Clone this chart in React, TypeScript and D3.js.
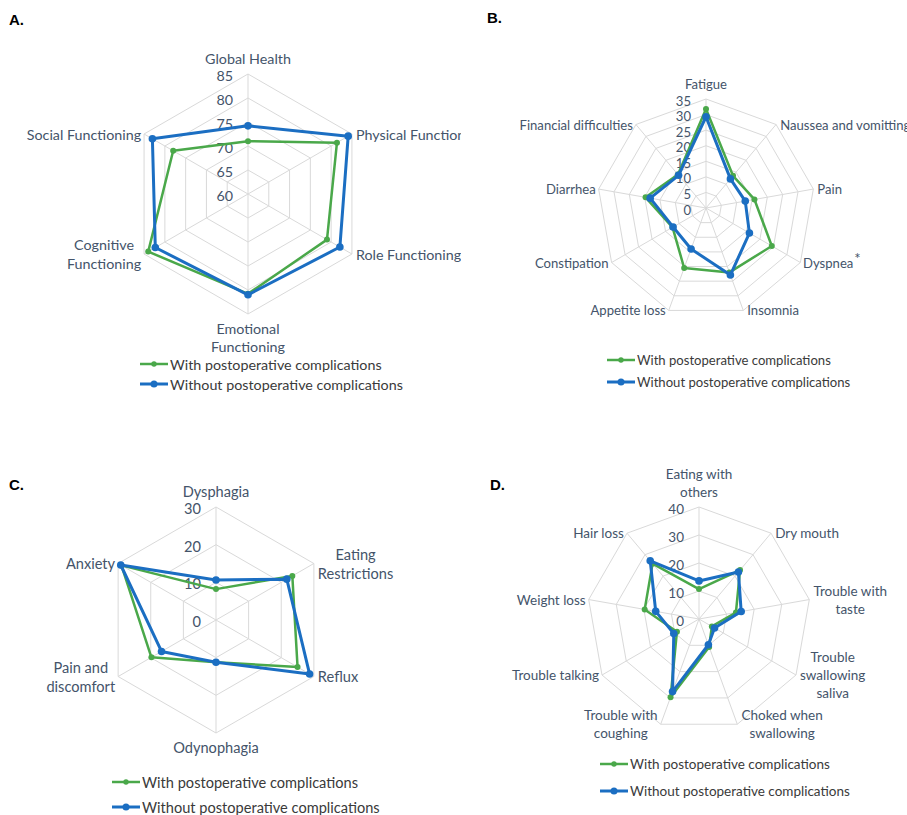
import React from "react";
import * as d3 from "d3";

// ---------- data ----------
const seriesNames = ["With postoperative complications", "Without postoperative complications"];

const axesA = [["Global Health"], ["Physical Functioning"], ["Role Functioning"], ["Emotional", "Functioning"], ["Cognitive", "Functioning"], ["Social Functioning"]];
const withA = [71.0, 81.4, 79.0, 80.8, 84.0, 78.0];
const withoutA = [74.2, 84.1, 82.1, 81.0, 82.3, 83.0];
const ticksA = [60, 65, 70, 75, 80, 85];

const axesB = [["Fatigue"], ["Naussea and vomitting"], ["Pain"], ["Dyspnea*"], ["Insomnia"], ["Appetite loss"], ["Constipation"], ["Diarrhea"], ["Financial difficulties"]];
const withB = [31.8, 13.5, 15.8, 24.4, 22.0, 20.5, 12.4, 19.7, 14.0];
const withoutB = [29.3, 12.2, 12.8, 16.1, 22.9, 14.0, 12.2, 18.2, 13.7];
const ticksB = [0, 5, 10, 15, 20, 25, 30, 35];

const axesC = [["Dysphagia"], ["Eating", "Restrictions"], ["Reflux"], ["Odynophagia"], ["Pain and", "discomfort"], ["Anxiety"]];
const withC = [8.2, 23.4, 25.0, 11.2, 19.8, 29.0];
const withoutC = [10.6, 21.7, 28.7, 11.2, 16.7, 29.2];
const ticksC = [0, 10, 20, 30];

const axesD = [["Eating with", "others"], ["Dry mouth"], ["Trouble with", "taste"], ["Trouble", "swallowing", "saliva"], ["Choked when", "swallowing"], ["Trouble with", "coughing"], ["Trouble talking"], ["Weight loss"], ["Hair loss"]];
const withD = [10.7, 22.8, 13.4, 5.3, 10.6, 29.7, 9.1, 19.7, 25.8];
const withoutD = [13.6, 21.9, 15.3, 6.4, 9.8, 27.6, 10.4, 15.7, 27.1];
const ticksD = [0, 10, 20, 30, 40];

// ---------- style ----------
const FONT = "Lato, 'Open Sans', sans-serif";
const LABEL_COLOR = "#44546a";
const LEGEND_COLOR = "#3a3a3a";
const GRID = "#d9d9d9";
const GREEN = "#4aa84a";
const BLUE = "#1b6ec2";

let ctx: CanvasRenderingContext2D | null = null;
function measure(t: string, fs: number) {
  if (!ctx) {
    const c = document.createElement("canvas");
    ctx = c.getContext("2d");
  }
  if (!ctx) return t.length * fs * 0.5;
  ctx.font = `${fs}px Lato`;
  return ctx.measureText(t).width;
}

type PanelProps = {
  title: string;
  tx: number;
  ty: number;
  cx: number;
  cy: number;
  R: number;
  fs: number;
  lh: number;
  axes: string[][];
  withVals: number[];
  withoutVals: number[];
  ticks: number[];
  legendX: number;
  legendY: number;
  legendGap: number;
  clipX?: number;
  id: string;
};

function Panel(p: PanelProps) {
  const n = p.axes.length;
  const FS = p.fs;
  const r = d3.scaleLinear().domain([p.ticks[0], p.ticks[p.ticks.length - 1]]).range([0, p.R]);
  const ang = (i: number) => (i * 2 * Math.PI) / n;
  const ring = (v: number) =>
    d3
      .lineRadial<number>()
      .angle((_, i) => ang(i))
      .radius(() => r(v))
      .curve(d3.curveLinearClosed)(d3.range(n)) || "";
  const poly = (vals: number[]) =>
    d3
      .lineRadial<number>()
      .angle((_, i) => ang(i))
      .radius((d) => r(d))
      .curve(d3.curveLinearClosed)(vals) || "";
  const pt = (v: number, i: number) => [p.cx + r(v) * Math.sin(ang(i)), p.cy - r(v) * Math.cos(ang(i))];
  const LH = p.lh;

  const labels = p.axes.map((lines, i) => {
    const a = ang(i);
    const s = Math.sin(a);
    const c = Math.cos(a);
    const vx = p.cx + p.R * s;
    const vy = p.cy - p.R * c;
    let xs: number;
    let ys: number[];
    if (Math.abs(s) < 0.01) {
      xs = p.cx;
      if (c > 0) ys = lines.map((_, k) => vy - 15.5 - (lines.length - 1 - k) * LH);
      else ys = lines.map((_, k) => vy + 14 + k * LH);
    } else {
      const w = Math.max(...lines.map((t) => measure(t, FS)));
      xs = s > 0 ? vx + 4 + w / 2 : vx - 3 - w / 2;
      ys = lines.map((_, k) => vy + (k - (lines.length - 1) / 2) * LH);
    }
    return (
      <g key={i}>
        {lines.map((t, k) => {
          if (t.endsWith("*")) {
            const w = measure(t.slice(0, -1), FS);
            return (
              <g key={k}>
                <text x={xs - 4} y={ys[k]} textAnchor="middle" dominantBaseline="central">
                  {t.slice(0, -1)}
                </text>
                <text x={xs - 4 + w / 2 + 1} y={ys[k] - 5} textAnchor="start" dominantBaseline="central" fontSize={15}>
                  *
                </text>
              </g>
            );
          }
          return (
            <text key={k} x={xs} y={ys[k]} textAnchor="middle" dominantBaseline="central">
              {t}
            </text>
          );
        })}
      </g>
    );
  });

  const series = [
    { vals: p.withVals, color: GREEN, w: 2.5, mr: 3 },
    { vals: p.withoutVals, color: BLUE, w: 3, mr: 3.8 },
  ];

  return (
    <g fontFamily={FONT} fontSize={FS}>
      {p.clipX !== undefined && (
        <defs>
          <clipPath id={p.id}>
            <rect x={p.cx - 300} y={p.cy - 300} width={p.clipX - (p.cx - 300)} height={600} />
          </clipPath>
        </defs>
      )}
      <text x={p.tx} y={p.ty} fontFamily="'Liberation Sans', Arial, sans-serif" fontWeight="bold" fontSize={15} fill="#000">
        {p.title}
      </text>
      {p.ticks.slice(1).map((t) => (
        <path key={t} d={ring(t)} transform={`translate(${p.cx},${p.cy})`} fill="none" stroke={GRID} strokeWidth={1} />
      ))}
      {d3.range(n).map((i) => {
        const [x, y] = pt(p.ticks[p.ticks.length - 1], i);
        return <line key={i} x1={p.cx} y1={p.cy} x2={x} y2={y} stroke={GRID} strokeWidth={1} />;
      })}
      <g fill={LABEL_COLOR}>
        {p.ticks.map((t) => (
          <text key={t} x={p.cx - 15} y={p.cy - r(t) + 1.5} textAnchor="end" dominantBaseline="central">
            {t}
          </text>
        ))}
      </g>
      {series.map((s, k) => (
        <g key={k}>
          <path d={poly(s.vals)} transform={`translate(${p.cx},${p.cy})`} fill="none" stroke={s.color} strokeWidth={s.w} strokeLinejoin="round" />
          {s.vals.map((v, i) => {
            const [x, y] = pt(v, i);
            return <circle key={i} cx={x} cy={y} r={s.mr} fill={s.color} />;
          })}
        </g>
      ))}
      <g fill={LABEL_COLOR} clipPath={p.clipX !== undefined ? `url(#${p.id})` : undefined}>
        {labels}
      </g>
      {series.map((s, k) => {
        const y = p.legendY + k * p.legendGap;
        return (
          <g key={k}>
            <line x1={p.legendX} x2={p.legendX + 28} y1={y} y2={y} stroke={s.color} strokeWidth={s.w} />
            <circle cx={p.legendX + 14} cy={y} r={s.mr - 0.3} fill={s.color} />
            <text x={p.legendX + 30} y={y} dominantBaseline="central" fill={LEGEND_COLOR}>
              {seriesNames[k]}
            </text>
          </g>
        );
      })}
    </g>
  );
}

export default function App() {
  return (
    <div style={{ position: "absolute", left: 0, top: 0 }}>
      <svg width={907} height={815} style={{ display: "block", background: "#fff" }}>
        <Panel id="pa" title="A." tx={9} ty={25} cx={248} cy={194} R={120} fs={14.3} lh={18.5} axes={axesA} withVals={withA} withoutVals={withoutA} ticks={ticksA} legendX={140} legendY={364} legendGap={20} clipX={461} />
        <Panel id="pb" title="B." tx={487} ty={23} cx={706} cy={208} R={109} fs={13.1} lh={17} axes={axesB} withVals={withB} withoutVals={withoutB} ticks={ticksB} legendX={607} legendY={360} legendGap={22} />
        <Panel id="pc" title="C." tx={9} ty={490} cx={216} cy={620} R={113} fs={14.6} lh={19} axes={axesC} withVals={withC} withoutVals={withoutC} ticks={ticksC} legendX={112} legendY={782} legendGap={25} />
        <Panel id="pd" title="D." tx={490} ty={490} cx={699} cy={619} R={112} fs={13.5} lh={18} axes={axesD} withVals={withD} withoutVals={withoutD} ticks={ticksD} legendX={600} legendY={764} legendGap={27} />
      </svg>
    </div>
  );
}
